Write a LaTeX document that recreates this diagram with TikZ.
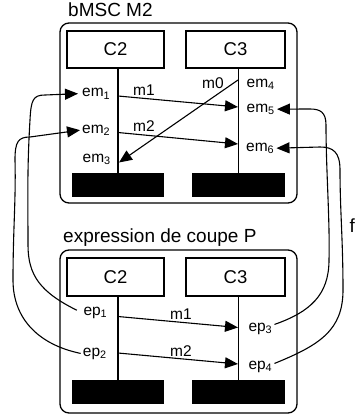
\documentclass[tikz,border=0pt]{standalone}
\usepackage{fontspec}
\setmainfont{Liberation Sans}
\usetikzlibrary{arrows.meta}
\tikzset{
  frame/.style={draw, line width=1.3pt, rounded corners=9pt},
  inst/.style={draw, line width=1.1pt, inner sep=0pt, minimum height=37pt,
    font=\fontsize{18.5}{20}\selectfont},
  endbar/.style={fill=black, inner sep=0pt, minimum width=92pt, minimum height=24pt},
  evt/.style={inner sep=2pt, anchor=base west, font=\fontsize{15.5}{18}\selectfont},
  title/.style={inner sep=0pt, anchor=base west, font=\fontsize{19}{22}\selectfont},
  life/.style={line width=1.1pt},
  msg/.style={line width=1.1pt, -{Triangle[length=13pt,width=11pt]}}
}
\begin{document}
\begin{tikzpicture}[x=1pt,y=-1pt]
\useasboundingbox (0,0) rectangle (358,416);
% bMSC M2
\node [title] (tM) at (68,16.5) {bMSC M2};
\draw [frame] (60,23) rectangle (297,203);
\node [inst, minimum width=97pt] (C2m) at (115.5,49.5) {C2};
\node [inst, minimum width=99pt] (C3m) at (235.5,49.5) {C3};
\node [endbar] (E2m) at (118,185) {};
\node [endbar, minimum width=93pt] (E3m) at (238.5,185) {};
\draw [life] (C2m.south -| E2m) -- (E2m.north);
\draw [life] (C3m.south -| E3m) -- (E3m.north);
\node [evt] (em1) at (80,96.5) {em\textsubscript{1}};
\node [evt] (em2) at (80,133) {em\textsubscript{2}};
\node [evt] (em3) at (80.5,162) {em\textsubscript{3}};
\node [evt] (em4) at (244.5,87) {em\textsubscript{4}};
\node [evt] (em5) at (244.5,112) {em\textsubscript{5}};
\node [evt] (em6) at (244,151) {em\textsubscript{6}};
\coordinate (s1m) at (118,96);
\coordinate (r1m) at (238,107);
\coordinate (s2m) at (118,132.5);
\coordinate (r2m) at (238,144);
\coordinate (s0m) at (238,80);
\coordinate (r0m) at (119,162.5);
\draw [msg] (s1m) -- (r1m);
\draw [msg] (s2m) -- (r2m);
\draw [msg] (s0m) -- (r0m);
\node [evt, inner sep=0pt] (m1m) at (133,95) {m1};
\node [evt, inner sep=0pt] (m2m) at (133,131) {m2};
\node [evt, inner sep=0pt] (m0m) at (202,88) {m0};
% expression de coupe P
\node [title] (tP) at (63,242.5) {expression de coupe P};
\draw [frame] (60,250) rectangle (297,413);
\node [inst, minimum width=97pt, minimum height=38pt] (C2p) at (115.5,277) {C2};
\node [inst, minimum width=99pt, minimum height=38pt] (C3p) at (235.5,277) {C3};
\node [endbar] (E2p) at (118,392) {};
\node [endbar, minimum width=93pt] (E3p) at (238.5,392) {};
\draw [life] (C2p.south -| E2p) -- (E2p.north);
\draw [life] (C3p.south -| E3p) -- (E3p.north);
\node [evt] (ep1) at (81.3,315) {ep\textsubscript{1}};
\node [evt] (ep2) at (80.7,356) {ep\textsubscript{2}};
\node [evt] (ep3) at (246.3,331) {ep\textsubscript{3}};
\node [evt] (ep4) at (246.3,369) {ep\textsubscript{4}};
\coordinate (s1p) at (118,316.5);
\coordinate (r1p) at (238,327.5);
\coordinate (s2p) at (118,353);
\coordinate (r2p) at (238,364);
\draw [msg] (s1p) -- (r1p);
\draw [msg] (s2p) -- (r2p);
\node [evt, inner sep=0pt] (m1p) at (170,319) {m1};
\node [evt, inner sep=0pt] (m2p) at (170,356) {m2};
% f
\draw [msg, shorten <=5pt, shorten >=2pt] (ep1.west) .. controls (40,292) and (28,275) .. (28,245)
  .. controls (28,200) and (27,170) .. (30,120) .. controls (31,100) and (33,95) .. (45,95) -- (em1.west);
\draw [msg] (ep2.west) .. controls (40,345) and (13,320) .. (13,280)
  .. controls (13,230) and (16,200) .. (15,160) .. controls (15,142) and (18,137) .. (30,137) -- (em2.west);
\draw [msg] ([yshift=4pt]ep3.east) .. controls (310,312) and (329,295) .. (329,260)
  .. controls (330,220) and (326,170) .. (326,125) .. controls (326,112) and (320,109) .. (310,109) -- (em5.east);
\draw [msg] ([yshift=3pt]ep4.east) .. controls (320,345) and (343,330) .. (343,290)
  .. controls (343,240) and (340,210) .. (340,170) .. controls (340,152) and (333,147) .. (320,147) -- (em6.east);
\node [title] (fl) at (349.5,232) {f};
\end{tikzpicture}
\end{document}
